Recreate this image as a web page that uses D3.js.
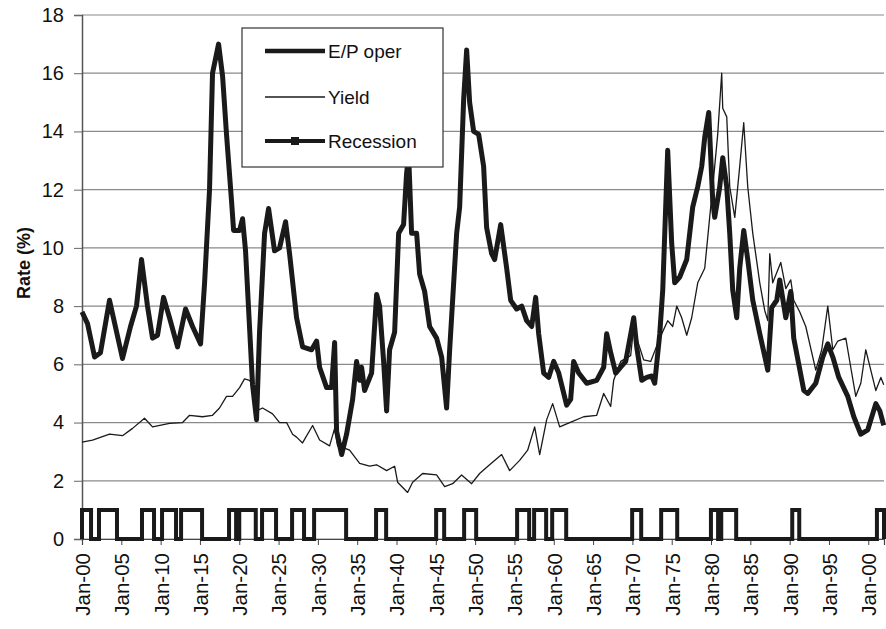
<!DOCTYPE html>
<html>
<head>
<meta charset="utf-8">
<script src="https://cdn.jsdelivr.net/npm/d3@7"></script>
<style>
  html, body { margin: 0; padding: 0; background: #fff; }
  svg { display: block; }
  text { font-family: "Liberation Sans", Arial, sans-serif; fill: #111; }
</style>
</head>
<body>
<svg id="chart" width="886" height="629"></svg>
<script>
// Earnings/price ratio on operating earnings (%), by decimal year
const epYears = [1900.0,1900.7,1901.6,1902.35,1903.5,1905.15,1906.17,1906.93,1907.57,1908.33,1908.97,1909.61,1910.37,1911.13,1912.15,1913.17,1914.06,1915.08,1915.59,1916.22,1916.6,1917.37,1917.88,1918.38,1919.02,1919.28,1920.04,1920.42,1920.8,1921.69,1922.2,1922.58,1923.22,1923.73,1924.49,1925.13,1925.89,1926.4,1927.29,1928.05,1929.2,1929.84,1930.22,1931.11,1931.74,1932.13,1932.38,1933.02,1933.65,1934.42,1934.92,1935.31,1935.56,1935.94,1936.83,1937.47,1937.85,1938.36,1938.74,1939.12,1939.76,1940.27,1940.9,1941.28,1941.54,1941.92,1942.56,1942.94,1943.58,1944.21,1945.1,1945.74,1946.37,1946.76,1947.27,1947.65,1948.03,1948.54,1948.92,1949.3,1949.81,1950.45,1951.08,1951.46,1952.1,1952.48,1953.25,1954.01,1954.52,1955.28,1955.92,1956.55,1957.19,1957.7,1958.08,1958.72,1959.35,1959.99,1960.63,1961.64,1962.15,1962.53,1963.17,1964.19,1965.46,1966.35,1966.73,1967.24,1967.88,1968.51,1969.15,1970.17,1970.55,1971.19,1971.82,1972.46,1972.84,1973.48,1973.86,1974.49,1975.0,1975.38,1976.02,1976.91,1977.67,1978.31,1978.82,1979.2,1979.71,1980.22,1980.47,1981.11,1981.49,1982.0,1982.38,1982.76,1983.27,1983.65,1984.16,1984.67,1985.31,1986.2,1987.22,1987.72,1988.36,1988.74,1989.51,1990.14,1990.52,1991.16,1991.8,1992.31,1993.32,1994.21,1994.85,1995.49,1996.25,1997.39,1998.16,1999.05,1999.94,2000.96,2001.47,2001.97];
const epValues = [7.8,7.4,6.25,6.4,8.2,6.2,7.3,8.0,9.6,8.0,6.9,7.0,8.3,7.6,6.6,7.9,7.3,6.7,8.8,12.0,16.0,17.0,15.9,13.9,11.6,10.6,10.6,11.0,9.9,5.3,4.1,7.1,10.5,11.35,9.9,10.0,10.9,9.8,7.6,6.6,6.5,6.8,5.9,5.2,5.2,6.75,3.7,2.9,3.6,4.8,6.1,5.45,5.9,5.1,5.7,8.4,8.0,6.1,4.4,6.5,7.1,10.5,10.8,12.55,13.2,10.5,10.5,9.1,8.5,7.3,6.9,6.25,4.5,6.5,8.8,10.5,11.4,15.1,16.8,15.0,14.0,13.9,12.8,10.7,9.8,9.6,10.8,9.3,8.2,7.9,8.0,7.5,7.3,8.3,7.05,5.7,5.55,6.1,5.7,4.6,4.8,6.1,5.7,5.35,5.45,5.9,7.05,6.4,5.7,5.9,6.1,7.6,6.6,5.45,5.55,5.6,5.35,7.05,8.55,13.35,10.15,8.8,9.0,9.6,11.4,12.1,12.8,13.8,14.65,11.6,11.05,12.1,13.1,12.1,10.5,8.55,7.6,9.3,10.6,9.6,8.2,7.05,5.8,7.95,8.2,8.9,7.6,8.5,6.9,6.0,5.1,5.0,5.35,6.25,6.7,6.25,5.55,4.9,4.2,3.6,3.75,4.65,4.4,3.9];

// Bond yield (%), by decimal year
const yieldYears = [1900.0,1901.34,1903.5,1905.15,1906.43,1907.95,1908.97,1911.13,1912.79,1913.68,1915.33,1916.6,1917.49,1918.38,1919.15,1920.04,1920.67,1921.31,1921.69,1922.2,1922.96,1924.24,1925.13,1926.02,1926.78,1927.29,1928.05,1929.33,1930.22,1931.49,1932.13,1932.51,1933.14,1934.03,1935.31,1936.58,1937.47,1938.74,1939.76,1940.14,1941.41,1942.05,1943.32,1945.1,1946.12,1947.14,1948.28,1949.55,1950.57,1951.84,1953.37,1954.39,1955.66,1956.68,1957.57,1958.21,1959.1,1959.86,1960.75,1962.02,1963.8,1965.46,1966.35,1967.24,1967.62,1968.51,1969.78,1970.17,1970.55,1971.44,1972.33,1973.48,1974.49,1975.13,1975.64,1976.27,1976.91,1977.54,1978.31,1979.2,1979.83,1980.47,1980.85,1981.36,1981.49,1982.0,1982.38,1983.02,1983.65,1984.16,1984.67,1985.31,1986.2,1986.83,1987.22,1987.47,1987.85,1988.87,1989.51,1990.14,1990.52,1991.29,1992.05,1993.32,1994.08,1994.85,1995.49,1996.12,1997.14,1997.77,1998.41,1999.05,1999.68,2000.32,2000.96,2001.6,2001.97];
const yieldValues = [3.33,3.4,3.6,3.55,3.8,4.15,3.85,3.97,4.0,4.25,4.2,4.25,4.5,4.9,4.9,5.2,5.5,5.45,5.3,4.4,4.5,4.3,4.0,4.0,3.6,3.5,3.3,3.9,3.4,3.2,3.8,3.2,3.15,3.05,2.6,2.5,2.55,2.35,2.5,1.95,1.6,1.95,2.25,2.2,1.8,1.9,2.2,1.9,2.25,2.55,2.9,2.35,2.7,3.05,3.85,2.9,4.1,4.65,3.85,4.0,4.2,4.25,5.0,4.55,5.45,6.1,6.3,7.3,6.9,6.15,6.1,6.9,7.5,7.3,8.0,7.6,7.0,7.6,8.8,9.3,11.05,12.8,13.9,16.0,14.8,14.5,12.1,11.05,12.8,14.3,12.1,10.5,8.8,7.85,7.5,9.8,8.8,9.5,8.6,8.9,8.2,7.8,7.3,5.8,6.5,8.0,6.5,6.8,6.9,5.9,4.9,5.35,6.5,5.8,5.1,5.55,5.3];

// Recession periods (indicator = 1 between start and end)
const recessionStarts = [1900.0,1902.16,1907.63,1910.18,1912.6,1918.7,1920.0,1922.9,1926.72,1929.52,1937.4,1945.04,1948.6,1955.34,1957.5,1959.8,1969.97,1973.66,1979.99,1981.3,1990.33,2001.1];
const recessionEnds   = [1901.15,1904.45,1909.16,1911.96,1915.27,1919.6,1922.1,1924.68,1928.24,1933.59,1938.68,1946.06,1950.13,1956.87,1959.03,1961.58,1971.12,1975.7,1980.9,1983.2,1991.22,2002.0];

const xTickYears = d3.range(1900, 2001, 5);
const yTicks = [0, 2, 4, 6, 8, 10, 12, 14, 16, 18];
const seriesNames = ["E/P oper", "Yield", "Recession"];

const svg = d3.select("#chart");
const margin = { left: 82, right: 2, top: 15, bottom: 90 };
const W = 886, H = 629;

const x = d3.scaleLinear().domain([1900, 2002]).range([margin.left, W - margin.right]);
const y = d3.scaleLinear().domain([0, 18]).range([H - margin.bottom, margin.top]);

// horizontal grid
svg.append("g")
  .selectAll("line")
  .data(yTicks)
  .join("line")
  .attr("x1", x(1900)).attr("x2", x(2002))
  .attr("y1", d => y(d)).attr("y2", d => y(d))
  .attr("stroke", "#8a8a8a").attr("stroke-width", 1.2);

// y axis
const yAxis = svg.append("g")
  .attr("transform", `translate(${x(1900)},0)`)
  .call(d3.axisLeft(y).tickValues(yTicks).tickSize(8).tickPadding(10));
yAxis.select(".domain").attr("stroke", "#555").attr("stroke-width", 1.5);
yAxis.selectAll(".tick line").attr("stroke", "#666");
yAxis.selectAll("text").style("font-size", "20px").style("font-family", '"Liberation Sans", Arial, sans-serif').attr("fill", "#111");

// x axis
const xAxis = svg.append("g")
  .attr("transform", `translate(0,${y(0)})`)
  .call(d3.axisBottom(x).tickValues(xTickYears).tickSize(6).tickFormat(d => "Jan-" + String(d % 100).padStart(2, "0")));
xAxis.select(".domain").attr("stroke", "#444").attr("stroke-width", 1.2);
xAxis.selectAll(".tick line").attr("stroke", "#444");
xAxis.selectAll("text")
  .style("font-size", "20.5px")
  .style("font-family", '"Liberation Sans", Arial, sans-serif')
  .attr("fill", "#111")
  .attr("text-anchor", "end")
  .attr("transform", "translate(0,14) rotate(-90)")
  .attr("x", 0).attr("y", 0).attr("dy", "0.36em");

// y axis title
svg.append("text")
  .attr("transform", `translate(30,${(y(0) + y(18)) / 2 - 14}) rotate(-90)`)
  .attr("text-anchor", "middle")
  .style("font-size", "18px")
  .style("font-weight", "bold")
  .text("Rate (%)");

const line = d3.line().x(d => x(d[0])).y(d => y(d[1]));

// recession indicator as step pattern
const recPts = [[1900, 0]];
recessionStarts.forEach((s, i) => {
  recPts.push([s, 0], [s, 1], [recessionEnds[i], 1], [recessionEnds[i], 0]);
});
recPts.push([2002, 0]);
svg.append("path")
  .datum(recPts)
  .attr("d", line)
  .attr("fill", "none").attr("stroke", "#1a1a1a")
  .attr("stroke-width", 4).attr("stroke-linejoin", "miter");

// yield
svg.append("path")
  .datum(yieldYears.map((t, i) => [t, yieldValues[i]]))
  .attr("d", line)
  .attr("fill", "none").attr("stroke", "#1a1a1a").attr("stroke-width", 1.3)
  .attr("stroke-linejoin", "round");

// E/P oper
svg.append("path")
  .datum(epYears.map((t, i) => [t, epValues[i]]))
  .attr("d", line)
  .attr("fill", "none").attr("stroke", "#1a1a1a").attr("stroke-width", 5)
  .attr("stroke-linejoin", "round");

// legend
const lg = svg.append("g");
lg.append("rect")
  .attr("x", 242).attr("y", 28).attr("width", 201).attr("height", 139)
  .attr("fill", "#fff").attr("stroke", "#333").attr("stroke-width", 1.2);
const legendRows = [
  { name: seriesNames[0], y: 51, w: 4.5, marker: false },
  { name: seriesNames[1], y: 97, w: 1.3, marker: false },
  { name: seriesNames[2], y: 141, w: 4, marker: true }
];
legendRows.forEach(r => {
  lg.append("line").attr("x1", 265).attr("x2", 325).attr("y1", r.y).attr("y2", r.y)
    .attr("stroke", "#1a1a1a").attr("stroke-width", r.w);
  if (r.marker) {
    lg.append("rect").attr("x", 291).attr("y", r.y - 4).attr("width", 8).attr("height", 8).attr("fill", "#1a1a1a");
  }
  lg.append("text").attr("x", 328).attr("y", r.y).attr("dy", "0.35em")
    .style("font-size", "19px").text(r.name);
});
</script>
</body>
</html>
